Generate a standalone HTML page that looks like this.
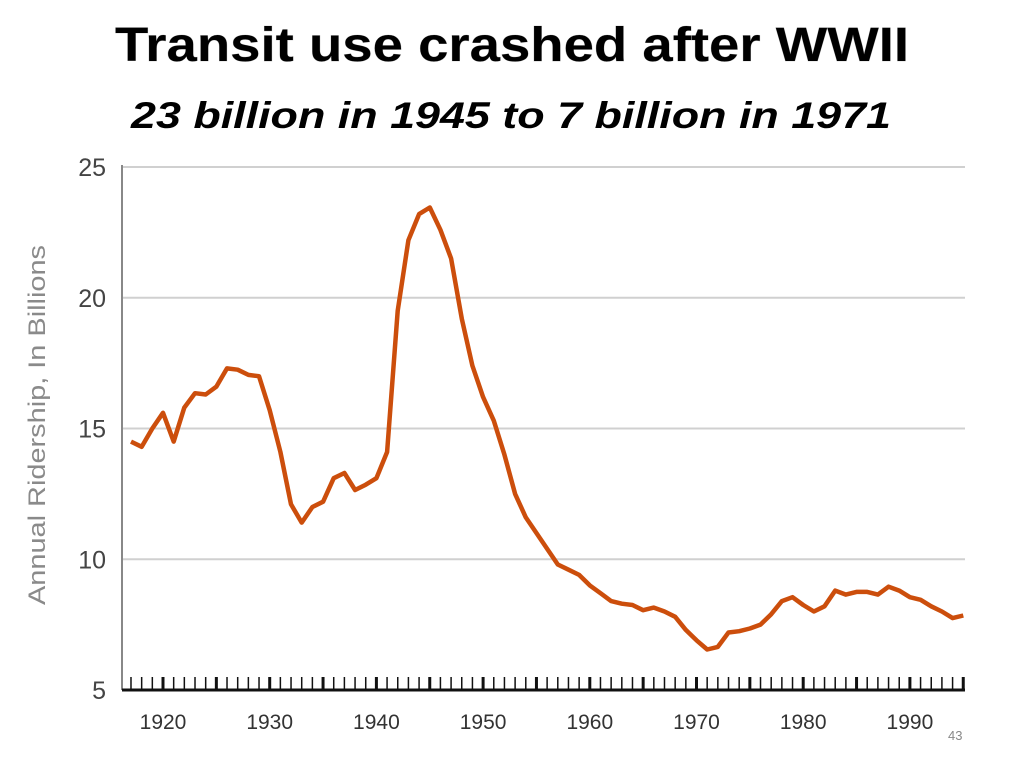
<!DOCTYPE html>
<html><head><meta charset="utf-8"><style>
body{margin:0;background:#fff;}
svg{display:block;font-family:"Liberation Sans",sans-serif;}
</style></head><body>
<svg width="1024" height="768" viewBox="0 0 1024 768">
<text x="512" y="61" text-anchor="middle" font-size="48" font-weight="bold" fill="#000" textLength="794" lengthAdjust="spacingAndGlyphs" style="paint-order:stroke" stroke="#bbb" stroke-width="0.6">Transit use crashed after WWII</text>
<text x="511" y="128" text-anchor="middle" font-size="37" font-weight="bold" font-style="italic" fill="#000" textLength="760" lengthAdjust="spacingAndGlyphs">23 billion in 1945 to 7 billion in 1971</text>
<g id="grid"></g>
<g id="yticks"></g>
<g id="xaxis"></g>
<text transform="translate(45,425) rotate(-90)" text-anchor="middle" font-size="24" fill="#8a8a8a" textLength="360" lengthAdjust="spacingAndGlyphs">Annual Ridership, In Billions</text>
<path id="line" fill="none" stroke="#cc4e0c" stroke-width="4.5" stroke-linejoin="round"/>
<text x="948" y="740" font-size="13" fill="#888">43</text>
</svg>
<script>
const startYear = 1917;
const ridership = [14.5,14.3,15.0,15.6,14.5,15.8,16.35,16.3,16.6,17.3,17.25,17.05,17.0,15.7,14.1,12.1,11.4,12.0,12.2,13.1,13.3,12.65,12.85,13.1,14.1,19.5,22.2,23.2,23.45,22.6,21.5,19.2,17.4,16.2,15.3,14.0,12.5,11.6,11.0,10.4,9.8,9.6,9.4,9.0,8.7,8.4,8.3,8.25,8.05,8.15,8.0,7.8,7.3,6.9,6.55,6.65,7.2,7.25,7.35,7.5,7.9,8.4,8.55,8.25,8.0,8.2,8.8,8.65,8.75,8.75,8.65,8.95,8.8,8.55,8.45,8.2,8.0,7.75,7.85];
const yTicks = [5,10,15,20,25];
const xLabels = [1920,1930,1940,1950,1960,1970,1980,1990];
const X0=122, X1=965;
function xs(yr){return 163 + (yr-1920)*10.67;}
function ys(v){return 690 - (v-5)*26.15;}
const NS="http://www.w3.org/2000/svg";
const grid=document.getElementById('grid'), yt=document.getElementById('yticks'), xa=document.getElementById('xaxis');
yTicks.forEach(v=>{
  if(v>5){const l=document.createElementNS(NS,'line');
  l.setAttribute('x1',X0);l.setAttribute('x2',X1);l.setAttribute('y1',ys(v));l.setAttribute('y2',ys(v));
  l.setAttribute('stroke','#d0d0d0');l.setAttribute('stroke-width','2');
  
  
  grid.appendChild(l);}
  const t=document.createElementNS(NS,'text');
  t.setAttribute('x',106);t.setAttribute('y',ys(v)+9);t.setAttribute('text-anchor','end');
  t.setAttribute('font-size','25');t.setAttribute('fill','#444');t.textContent=v;
  
  
  yt.appendChild(t);
});
const ax=document.createElementNS(NS,'line');
ax.setAttribute('x1',X0);ax.setAttribute('x2',X0);ax.setAttribute('y1',165);ax.setAttribute('y2',690);
ax.setAttribute('stroke','#888');ax.setAttribute('stroke-width','2');


xa.appendChild(ax);
const bx=document.createElementNS(NS,'line');
bx.setAttribute('x1',X0);bx.setAttribute('x2',X1);bx.setAttribute('y1',690);bx.setAttribute('y2',690);
bx.setAttribute('stroke','#111');bx.setAttribute('stroke-width','3');


xa.appendChild(bx);
for(let yr=1916;yr<=1995;yr++){
  const x=xs(yr); if(x<X0) continue;
  const m=document.createElementNS(NS,'line');
  m.setAttribute('x1',x);m.setAttribute('x2',x);m.setAttribute('y1',677);m.setAttribute('y2',690);
  m.setAttribute('stroke','#111');m.setAttribute('stroke-width',yr%5===0?3:1.5);
  
  
  xa.appendChild(m);
}
xLabels.forEach(yr=>{
  const t=document.createElementNS(NS,'text');
  t.setAttribute('x',xs(yr));t.setAttribute('y',729);t.setAttribute('text-anchor','middle');
  t.setAttribute('font-size','21');t.setAttribute('fill','#333');t.textContent=yr;
  
  
  xa.appendChild(t);
});
let d='';
ridership.forEach((v,i)=>{d+=(i?'L':'M')+xs(startYear+i).toFixed(1)+','+ys(v).toFixed(1);});
document.getElementById('line').setAttribute('d',d);
</script>
</body></html>
